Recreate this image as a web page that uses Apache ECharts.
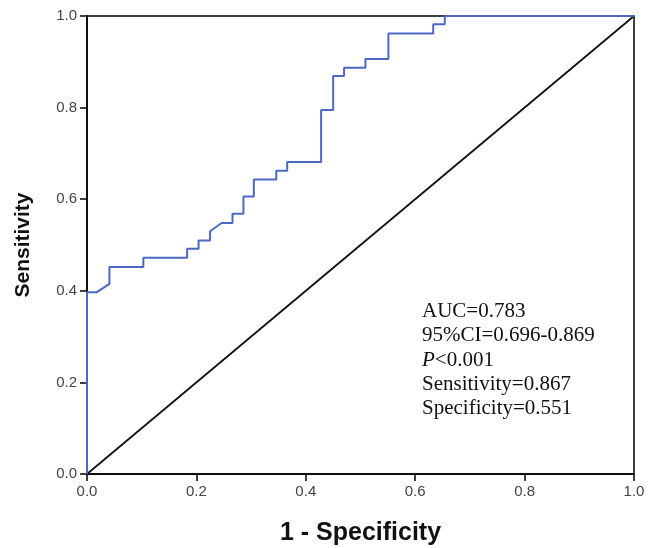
<!DOCTYPE html>
<html>
<head>
<meta charset="utf-8">
<script src="https://cdn.jsdelivr.net/npm/echarts@6/dist/echarts.min.js"></script>
<style>html,body{margin:0;padding:0;background:#fff;}#c{width:648px;height:548px;}</style>
</head>
<body>
<div id="c"></div>
<script>
// ROC curve vertices (1 - specificity, sensitivity)
const fpr = [0, 0, 0.018, 0.041, 0.041, 0.103, 0.103, 0.183, 0.183, 0.204, 0.204, 0.225, 0.225, 0.246, 0.266, 0.266, 0.286, 0.286, 0.305, 0.305, 0.346, 0.346, 0.366, 0.366, 0.428, 0.428, 0.450, 0.450, 0.470, 0.470, 0.509, 0.509, 0.551, 0.551, 0.633, 0.633, 0.654, 0.654, 1.0];
const tpr = [0, 0.397, 0.397, 0.415, 0.452, 0.452, 0.472, 0.472, 0.492, 0.492, 0.510, 0.510, 0.530, 0.548, 0.548, 0.568, 0.568, 0.606, 0.606, 0.643, 0.643, 0.662, 0.662, 0.681, 0.681, 0.795, 0.795, 0.869, 0.869, 0.887, 0.887, 0.906, 0.906, 0.962, 0.962, 0.982, 0.982, 1.0, 1.0];
const refX = [0, 1];
const refY = [0, 1];
const tickLabels = ['0.0', '0.2', '0.4', '0.6', '0.8', '1.0'];
const statsLines = ['AUC=0.783', '95%CI=0.696-0.869', 'P<0.001', 'Sensitivity=0.867', 'Specificity=0.551'];

const chart = echarts.init(document.getElementById('c'));
const fmt = v => tickLabels[Math.round(v / 0.2)] || v.toFixed(1);
const axisCommon = {
  type: 'value', min: 0, max: 1, interval: 0.2,
  axisLine: { show: true, lineStyle: { color: '#000', width: 1.5 } },
  axisTick: { show: true, inside: false, length: 7, lineStyle: { color: '#000', width: 1.5 } },
  splitLine: { show: false },
  axisLabel: { formatter: fmt, color: '#444', fontSize: 15, margin: 10, fontFamily: 'Liberation Sans, Arial, sans-serif' },
  nameLocation: 'middle',
  nameTextStyle: { color: '#111', fontWeight: 'bold', fontFamily: 'Liberation Sans, Arial, sans-serif' }
};
chart.setOption({
  animation: false,
  backgroundColor: '#fff',
  grid: { left: 87, right: 14, top: 16, bottom: 74, show: true, borderColor: '#000', borderWidth: 1.5,
    containLabel: false, outerBoundsMode: 'none' },
  xAxis: Object.assign({}, axisCommon, { name: '1 - Specificity', nameGap: 47,
    nameTextStyle: Object.assign({}, axisCommon.nameTextStyle, { fontSize: 25 }) }),
  yAxis: Object.assign({}, axisCommon, { name: 'Sensitivity', nameGap: 53,
    nameTextStyle: Object.assign({}, axisCommon.nameTextStyle, { fontSize: 21 }) }),
  series: [
    {
      type: 'line', data: refX.map((x, i) => [x, refY[i]]), symbol: 'none',
      lineStyle: { color: '#111', width: 1.8 }, z: 2
    },
    {
      type: 'line', data: fpr.map((x, i) => [x, tpr[i]]), symbol: 'none',
      lineStyle: { color: '#4a68c4', width: 2 }, z: 3
    }
  ],
  graphic: statsLines.map((t, i) => {
    let txt = t;
    if (t.startsWith('P')) { txt = '{i|P}' + t.slice(1); }
    return {
      type: 'text', left: 422, top: 301 + i * 24.3,
      style: {
        text: txt, fill: '#111', fontSize: 21,
        fontFamily: 'Liberation Serif, Times New Roman, serif',
        rich: { i: { fontStyle: 'italic', fontSize: 21, fontFamily: 'Liberation Serif, Times New Roman, serif', fill: '#111' } }
      }
    };
  })
});
</script>
</body>
</html>
